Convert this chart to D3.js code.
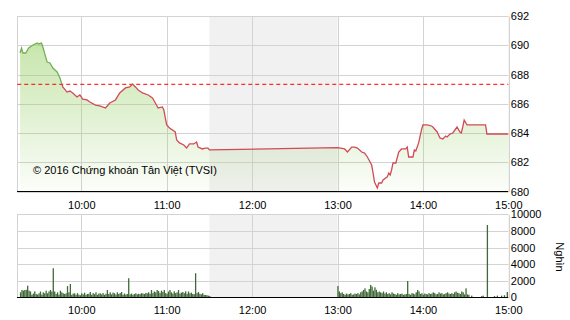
<!DOCTYPE html>
<html>
<head>
<meta charset="utf-8">
<script src="https://cdn.jsdelivr.net/npm/d3@7"></script>
<style>
  body { margin: 0; background: #fff; }
  svg text { font-family: "Liberation Sans", Arial, sans-serif; }
</style>
</head>
<body>
<svg id="chart" width="570" height="320"></svg>
<script>
// price (index points)
var priceTimes = ["9:17","9:18","9:19","9:21","9:23","9:26","9:29","9:30","9:32","9:33","9:36","9:38","9:40","9:43","9:45","9:47","9:50","9:52","9:54","9:57","9:59",
  "10:01","10:04","10:06","10:10","10:13","10:17","10:20","10:24","10:27","10:31","10:34","10:36","10:38","10:40","10:43","10:47","10:50","10:52","10:54","10:57","10:58","10:59",
  "11:00","11:02","11:06","11:07","11:09","11:12","11:14","11:16","11:19","11:21","11:22","11:25","11:27","11:29","11:30",
  "13:00","13:05","13:07","13:10","13:12","13:14","13:17","13:19","13:21","13:24","13:25","13:26","13:28","13:29","13:31","13:32","13:35","13:36","13:37","13:38","13:39","13:41","13:43","13:45","13:48","13:49","13:50","13:53","13:54","13:55","13:57","13:59",
  "14:00","14:03","14:06","14:07","14:10","14:12","14:14","14:16","14:17","14:19","14:21","14:24","14:26","14:27","14:28","14:29","14:31","14:33","14:44","14:45","15:00"]
var priceValues = [689.47,689.81,689.47,689.47,689.81,690.02,690.15,690.09,690.15,689.88,688.85,688.79,688.44,688.17,687.76,687.15,686.80,686.87,686.74,686.46,686.60,
  686.32,686.26,686.12,685.91,685.85,685.71,686.05,686.26,686.74,687.08,687.15,687.35,687.15,686.94,686.74,686.60,686.39,686.05,685.71,685.78,685.57,685.03,
  684.55,684.34,684.07,683.52,683.32,683.18,682.97,683.25,683.25,683.38,683.04,682.91,682.97,682.97,682.84,
  683.00,682.91,682.70,683.04,683.04,682.97,682.70,682.63,682.36,681.81,681.26,680.65,680.24,680.58,680.58,680.79,681.00,681.26,681.13,681.47,681.95,681.95,682.70,682.91,682.91,683.04,682.36,682.36,682.84,682.77,683.32,684.21,
  684.55,684.55,684.48,684.41,684.07,683.66,683.59,683.79,683.73,683.93,684.00,684.41,684.07,684.00,684.41,684.89,684.55,684.55,684.55,683.93,683.93]
var refPrice = 687.33

// volume (thousand shares), one value per minute
var volMorningStart = "9:15"
var volMorning = [0,0,600,880,800,880,900,1400,800,700,
  300,450,720,400,320,480,700,320,600,480,
  800,480,700,880,700,3500,700,400,600,320,
  800,600,480,400,480,1350,600,1600,300,450,
  480,300,500,320,250,480,350,560,300,400,
  420,640,300,500,380,600,300,450,480,350,
  500,300,420,880,400,600,350,560,480,320,
  600,400,500,640,300,450,320,400,2300,350,
  450,300,400,480,350,420,380,500,450,400,
  520,480,600,420,880,500,700,600,880,750,
  500,800,650,880,500,420,700,880,600,450,
  720,500,600,880,450,560,640,500,720,420,
  700,480,560,400,380,2900,500,650,420,360,
  500,300,280,250,200,150]
var volAfternoonStart = "13:00"
var volAfternoon = [1360,700,500,600,400,300,450,350,400,500,
  300,350,450,400,500,350,600,700,880,1080,
  700,600,1000,1490,1290,800,1200,900,600,700,
  600,500,700,450,600,400,500,350,600,450,
  400,300,500,350,400,450,300,350,400,1960,
  400,300,500,450,350,600,880,700,400,500,
  300,450,400,350,500,400,450,600,500,350,
  400,600,450,500,350,400,500,600,450,400,
  500,400,600,700,550,500,400,700,600,350,
  1080,350,300,0,200,0,0,0,0,0,
  0,150,200,0,0,8710,0,0,0,0,
  150,0,200,0,0,200,0,250,0,640,0]

var priceTicks = [680,682,684,686,688,690,692]
var volTicks = [0,2000,4000,6000,8000,10000]
var hourTicks = ["10:00","11:00","12:00","13:00","14:00","15:00"]
var lunch = ["11:30","13:00"]

var parseT = d3.timeParse("%H:%M")
function t(s){ return parseT(s) }

var svg = d3.select("#chart")
var left = 17.25, right = 508.3

var x = d3.scaleTime().domain([t("9:15"), t("15:00")]).range([left, right])
var yP = d3.scaleLinear().domain([680, 692]).range([191.5, 16])
var yV = d3.scaleLinear().domain([0, 10000]).range([297.3, 214.3])

var price = priceTimes.map((d,i)=>({t:t(d), v:priceValues[i]}))
var vols = []
volMorning.forEach((v,i)=>vols.push({t:d3.timeMinute.offset(t(volMorningStart), i), v:v}))
volAfternoon.forEach((v,i)=>vols.push({t:d3.timeMinute.offset(t(volAfternoonStart), i), v:v}))

var gridColor = "#d3d3d3"

function panel(y, ticks, top, bottom){
  var g = svg.append("g")
  g.append("rect")
    .attr("x", x(t(lunch[0]))).attr("y", top)
    .attr("width", x(t(lunch[1])) - x(t(lunch[0]))).attr("height", bottom - top)
    .attr("fill", "#f1f1f1")
  g.selectAll("line.h").data(ticks).enter().append("line")
    .attr("x1", left).attr("x2", right)
    .attr("y1", d=>Math.round(y(d))+0.5).attr("y2", d=>Math.round(y(d))+0.5)
    .attr("stroke", gridColor)
  g.selectAll("line.v").data(hourTicks.slice(0,5)).enter().append("line")
    .attr("x1", d=>Math.round(x(t(d)))+0.5).attr("x2", d=>Math.round(x(t(d)))+0.5)
    .attr("y1", top).attr("y2", bottom)
    .attr("stroke", gridColor)
  g.append("line").attr("x1", 17.5).attr("x2", 17.5).attr("y1", top).attr("y2", bottom).attr("stroke", gridColor)
  return g
}

// ---- price panel
var pTop = yP(692), pBot = yP(680)
panel(yP, priceTicks, pTop, pBot)

var defs = svg.append("defs")
var grad = defs.append("linearGradient").attr("id", "fillGrad")
  .attr("gradientUnits", "userSpaceOnUse")
  .attr("x1", 0).attr("x2", 0).attr("y1", pTop).attr("y2", pBot)
grad.append("stop").attr("offset", "0%").attr("stop-color", "rgb(150,207,100)").attr("stop-opacity", 0.62)
grad.append("stop").attr("offset", "100%").attr("stop-color", "rgb(150,207,100)").attr("stop-opacity", 0.03)

defs.append("clipPath").attr("id", "above").append("rect")
  .attr("x", 0).attr("y", 0).attr("width", 570).attr("height", yP(refPrice))
defs.append("clipPath").attr("id", "below").append("rect")
  .attr("x", 0).attr("y", yP(refPrice)).attr("width", 570).attr("height", 320)

var area = d3.area().x(d=>x(d.t)).y0(pBot).y1(d=>yP(d.v))
var line = d3.line().x(d=>x(d.t)).y(d=>yP(d.v))

svg.append("path").datum(price).attr("d", area).attr("fill", "url(#fillGrad)")

svg.append("line")
  .attr("x1", left).attr("x2", right)
  .attr("y1", yP(refPrice)).attr("y2", yP(refPrice))
  .attr("stroke", "#ff0000").attr("stroke-dasharray", "4,3")

svg.append("path").datum(price).attr("d", line).attr("fill", "none")
  .attr("stroke", "#74b052").attr("stroke-width", 1.3).attr("clip-path", "url(#above)")
svg.append("path").datum(price).attr("d", line).attr("fill", "none")
  .attr("stroke", "#d24a55").attr("stroke-width", 1.3).attr("clip-path", "url(#below)")

svg.append("text").attr("x", 33).attr("y", 174)
  .attr("font-size", "11px").attr("fill", "#000")
  .text("© 2016 Chứng khoán Tân Việt (TVSI)")

svg.append("line").attr("x1", 17).attr("x2", right).attr("y1", 191.5).attr("y2", 191.5).attr("stroke", "#000")

var yAxisP = svg.append("g").attr("transform", "translate(" + (right+0.5) + ",0)")
  .call(d3.axisRight(yP).tickValues(priceTicks).tickSize(0).tickPadding(2).tickFormat(d3.format("d")))
yAxisP.select(".domain").attr("stroke", "#c8c8c8")
yAxisP.selectAll("text").attr("font-size", "11px").attr("fill", "#000").attr("font-family", "Liberation Sans, Arial")

var xAxisTop = svg.append("g").attr("transform", "translate(0,198)")
  .call(d3.axisBottom(x).tickValues(hourTicks.map(t)).tickSize(0).tickFormat(d3.timeFormat("%H:%M")))
xAxisTop.select(".domain").remove()
xAxisTop.selectAll("text").attr("font-size", "11px").attr("fill", "#000").attr("font-family", "Liberation Sans, Arial")

// ---- volume panel
var vTop = yV(10000), vBot = yV(0)
panel(yV, volTicks, vTop, vBot)

svg.append("g").selectAll("rect").data(vols.filter(d=>d.v>0)).enter().append("rect")
  .attr("x", d=>x(d.t) - 0.2)
  .attr("width", 1.3)
  .attr("y", d=>yV(d.v))
  .attr("height", d=>vBot - yV(d.v))
  .attr("fill", "#3f6a37")

svg.append("line").attr("x1", 17).attr("x2", right).attr("y1", 297.5).attr("y2", 297.5).attr("stroke", "#000")

var yAxisV = svg.append("g").attr("transform", "translate(" + (right+0.5) + ",0)")
  .call(d3.axisRight(yV).tickValues(volTicks).tickSize(0).tickPadding(2).tickFormat(d3.format("d")))
yAxisV.select(".domain").attr("stroke", "#c8c8c8")
yAxisV.selectAll("text").attr("font-size", "11px").attr("fill", "#000").attr("font-family", "Liberation Sans, Arial")

var xAxisBot = svg.append("g").attr("transform", "translate(0,303)")
  .call(d3.axisBottom(x).tickValues(hourTicks.map(t)).tickSize(0).tickFormat(d3.timeFormat("%H:%M")))
xAxisBot.select(".domain").remove()
xAxisBot.selectAll("text").attr("font-size", "11px").attr("fill", "#000").attr("font-family", "Liberation Sans, Arial")

svg.append("text")
  .attr("transform", "translate(556,257) rotate(90)")
  .attr("text-anchor", "middle").attr("font-size", "11px").attr("fill", "#000")
  .text("Nghìn")
</script>
</body>
</html>
